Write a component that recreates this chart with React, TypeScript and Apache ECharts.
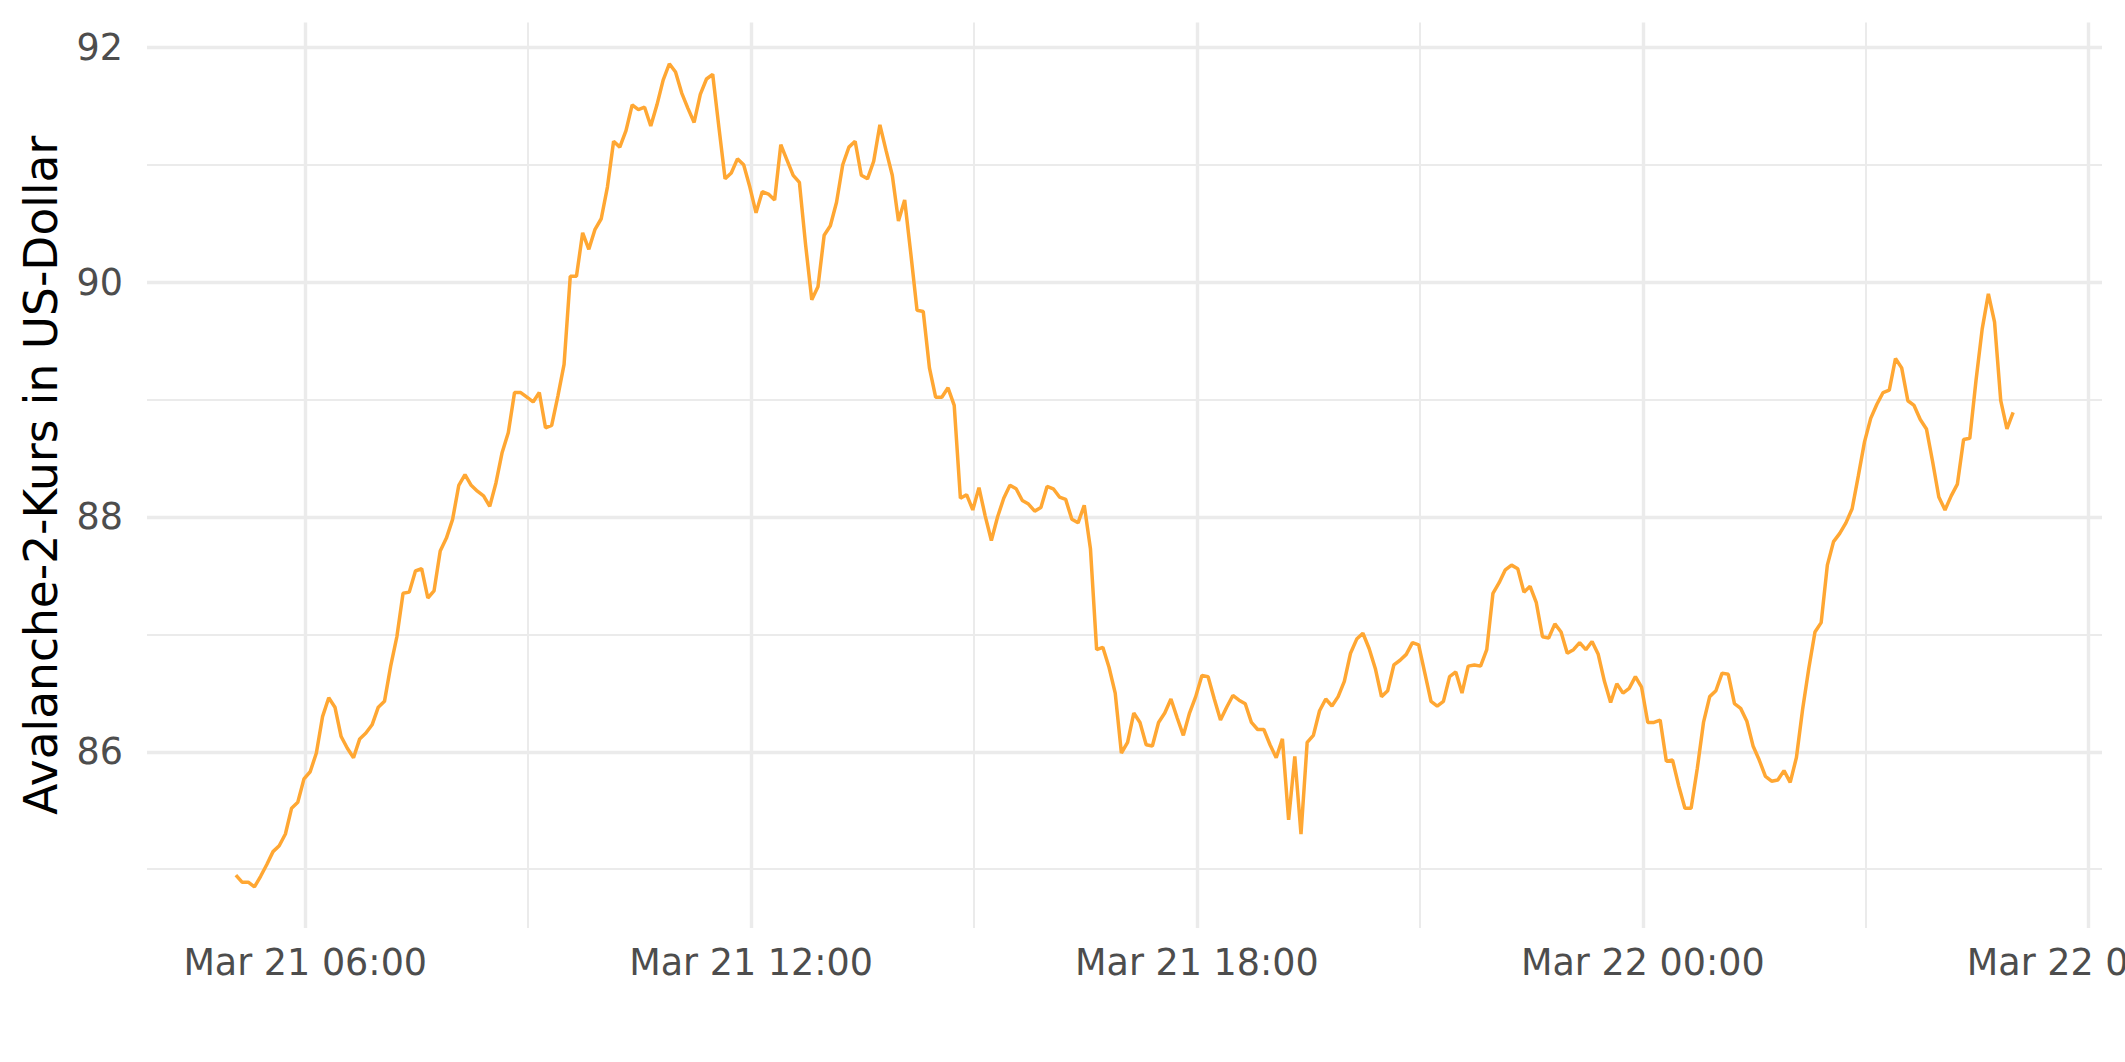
import React, { useEffect, useRef } from "react";
import * as echarts from "echarts";

// Price series: one reading every 5 minutes, starting Mar 21 05:04 (UTC)
const START_UTC = Date.UTC(2022, 2, 21, 5, 4);
const STEP_MINUTES = 5;
const prices = [
  84.95, 84.89, 84.89, 84.85, 84.94, 85.04, 85.15, 85.2, 85.3, 85.52,
  85.57, 85.77, 85.83, 85.99, 86.3, 86.46, 86.38, 86.13, 86.03, 85.95,
  86.11, 86.16, 86.23, 86.38, 86.43, 86.73, 86.98, 87.35, 87.36, 87.54,
  87.56, 87.31, 87.37, 87.71, 87.82, 87.98, 88.27, 88.36, 88.27, 88.22,
  88.18, 88.09, 88.29, 88.55, 88.72, 89.06, 89.06, 89.02, 88.98, 89.06,
  88.76, 88.78, 89.03, 89.3, 90.05, 90.05, 90.42, 90.28, 90.45, 90.54,
  90.81, 91.2, 91.15, 91.29, 91.51, 91.47, 91.49, 91.33, 91.51, 91.72,
  91.86, 91.79, 91.61, 91.48, 91.36, 91.6, 91.73, 91.77, 91.32, 90.88,
  90.93, 91.05, 91.0, 90.81, 90.59, 90.77, 90.75, 90.7, 91.17, 91.04,
  90.91, 90.85, 90.32, 89.85, 89.96, 90.4, 90.48, 90.68, 91.0, 91.15,
  91.2, 90.91, 90.88, 91.03, 91.34, 91.12, 90.91, 90.52, 90.7, 90.24,
  89.76, 89.75, 89.27, 89.02, 89.02, 89.1, 88.95, 88.16, 88.19, 88.06,
  88.25, 88.01, 87.8, 88.0, 88.16, 88.27, 88.24, 88.14, 88.11, 88.05,
  88.08, 88.26, 88.24, 88.17, 88.15, 87.98, 87.95, 88.1, 87.73, 86.87,
  86.89, 86.72, 86.5, 85.99, 86.08, 86.33, 86.25, 86.06, 86.05, 86.25,
  86.33, 86.45, 86.29, 86.14, 86.33, 86.47, 86.65, 86.64, 86.45, 86.27,
  86.38, 86.48, 86.44, 86.41, 86.25, 86.19, 86.19, 86.06, 85.95, 86.11,
  85.42, 85.96, 85.3, 86.08, 86.14, 86.35, 86.45, 86.39, 86.47, 86.6,
  86.84, 86.96, 87.01, 86.88, 86.71, 86.47, 86.52, 86.74, 86.78, 86.83,
  86.93, 86.91, 86.67, 86.43, 86.39, 86.43, 86.64, 86.68, 86.5, 86.73,
  86.74, 86.73, 86.87, 87.35, 87.44, 87.55, 87.59, 87.56, 87.36, 87.41,
  87.27, 86.98, 86.97, 87.09, 87.02, 86.84, 86.87, 86.93, 86.87, 86.94,
  86.83, 86.6, 86.42, 86.58, 86.5, 86.54, 86.64, 86.55, 86.25, 86.25,
  86.27, 85.92, 85.93, 85.71, 85.52, 85.52, 85.86, 86.25, 86.47, 86.52,
  86.67, 86.66, 86.41, 86.37, 86.26, 86.05, 85.93, 85.79, 85.75, 85.76,
  85.84, 85.74, 85.95, 86.36, 86.71, 87.02, 87.1, 87.59, 87.79, 87.86,
  87.95, 88.07, 88.35, 88.64, 88.84, 88.96, 89.06, 89.08, 89.35, 89.27,
  88.99, 88.95, 88.83, 88.75, 88.47, 88.17, 88.06, 88.18, 88.28, 88.66,
  88.67, 89.16, 89.6, 89.9, 89.66, 88.99, 88.75, 88.89,
];

// Axis ticks
const DAY0_UTC = Date.UTC(2022, 2, 21);
const xMajorHours = [6, 12, 18, 24, 30];
const xMinorHours = [9, 15, 21, 27];
const yMajorTicks = [86, 88, 90, 92];
const yMinorTicks = [85, 87, 89, 91];
const MONTHS = ["Jan", "Feb", "Mar", "Apr", "May", "Jun", "Jul", "Aug", "Sep", "Oct", "Nov", "Dec"];
const yAxisTitle = "Avalanche-2-Kurs in US-Dollar";

const FONT = "DejaVu Sans";
const GRID_COLOR = "#EBEBEB";
const MAJOR_W = 3.4;
const MINOR_W = 2.0;

const pad2 = (n: number) => (n < 10 ? "0" + n : "" + n);
const fmtTime = (v: number) => {
  const d = new Date(v);
  return `${MONTHS[d.getUTCMonth()]} ${d.getUTCDate()} ${pad2(d.getUTCHours())}:${pad2(d.getUTCMinutes())}`;
};

export default function App() {
  const ref = useRef<HTMLDivElement>(null);

  useEffect(() => {
    document.body.style.margin = "0";
    if (!ref.current) return;
    const chart = echarts.init(ref.current, undefined, { renderer: "svg" });

    const times = prices.map((_, i) => START_UTC + i * STEP_MINUTES * 60000);
    const data = prices.map((p, i) => [times[i], p]);
    const tFirst = times[0];
    const tLast = times[times.length - 1];
    const tPad = (tLast - tFirst) * 0.05;
    const pMin = Math.min(...prices);
    const pMax = Math.max(...prices);
    const pPad = (pMax - pMin) * 0.05;

    const hourToMs = (h: number) => DAY0_UTC + h * 3600000;
    const xMajor = xMajorHours.map(hourToMs);
    const xMinor = xMinorHours.map(hourToMs);

    const gridTop = 22.6;
    const gridBottom = 134;

    const markData: any[] = [
      ...xMinor.map((v) => ({ xAxis: v, lineStyle: { color: GRID_COLOR, width: MINOR_W, type: "solid" } })),
      ...yMinorTicks.map((v) => ({ yAxis: v, lineStyle: { color: GRID_COLOR, width: MINOR_W, type: "solid" } })),
      ...xMajor.map((v) => ({ xAxis: v, lineStyle: { color: GRID_COLOR, width: MAJOR_W, type: "solid" } })),
      ...yMajorTicks.map((v) => ({ yAxis: v, lineStyle: { color: GRID_COLOR, width: MAJOR_W, type: "solid" } })),
    ];

    chart.setOption({
      animation: false,
      backgroundColor: "#FFFFFF",
      grid: {
        left: 147,
        right: 23,
        top: gridTop,
        bottom: gridBottom,
        containLabel: false,
        outerBoundsMode: "none",
      },
      xAxis: {
        type: "value",
        min: tFirst - tPad,
        max: tLast + tPad,
        axisLine: { show: false },
        axisTick: { show: false },
        splitLine: { show: false },
        axisLabel: {
          customValues: xMajor,
          formatter: (v: number) => fmtTime(v),
          color: "#4D4D4D",
          fontSize: 36.5,
          fontFamily: FONT,
          margin: 16,
        },
      },
      yAxis: {
        type: "value",
        min: pMin - pPad,
        max: pMax + pPad,
        axisLine: { show: false },
        axisTick: { show: false },
        splitLine: { show: false },
        axisLabel: {
          customValues: yMajorTicks,
          formatter: (v: number) => String(v),
          color: "#4D4D4D",
          fontSize: 36.5,
          fontFamily: FONT,
          margin: 24,
        },
      },
      graphic: [
        {
          type: "text",
          x: 41,
          y: gridTop + (1062 - gridBottom - gridTop) / 2,
          rotation: Math.PI / 2,
          style: {
            text: yAxisTitle,
            fontSize: 45.5,
            fontFamily: FONT,
            fill: "#000000",
            align: "center",
            verticalAlign: "middle",
          },
        },
      ],
      series: [
        {
          type: "line",
          data,
          showSymbol: false,
          symbol: "none",
          z: 3,
          lineStyle: { color: "#FFA733", width: 3.5 },
          markLine: {
            silent: true,
            z: 1,
            symbol: ["none", "none"],
            label: { show: false },
            emphasis: { disabled: true },
            animation: false,
            data: markData,
          },
        },
      ],
    });

    return () => chart.dispose();
  }, []);

  return <div ref={ref} style={{ width: 2125, height: 1062 }} />;
}
